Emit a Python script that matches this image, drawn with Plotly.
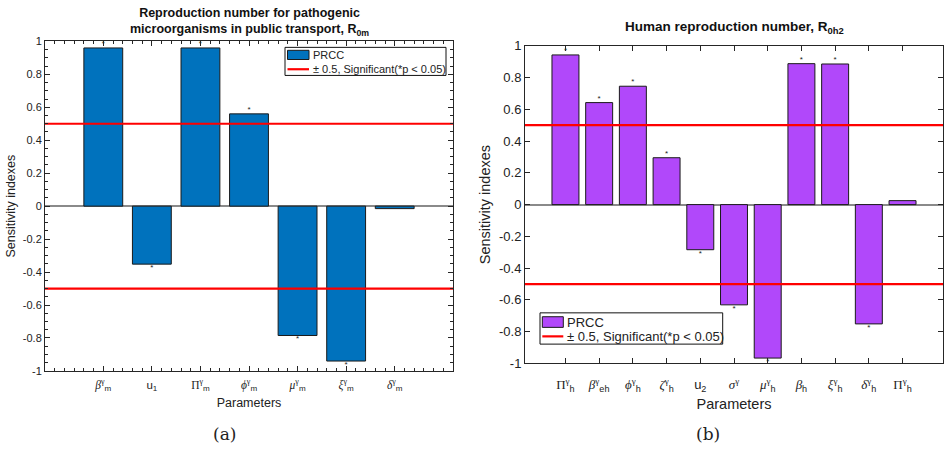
import plotly.graph_objects as go

W, H = 948, 467

# ---- data -------------------------------------------------------------
SERIF = "Liberation Serif"


def greek(sym, sup="", sub="", italic=True):
    g = f"<i>{sym}</i>" if italic else sym
    s = f'<span style="font-family:{SERIF}">{g}'
    if sup:
        s += f"<sup>{sup}</sup>"
    s += "</span>"
    if sub:
        s += f"<sub>{sub}</sub>"
    return s


m_labels = [
    greek("β", "γ", "m"),
    "u<sub>1</sub>",
    greek("Π", "γ", "m", italic=False),
    greek("ϕ", "γ", "m"),
    greek("μ", "γ", "m"),
    greek("ξ", "γ", "m"),
    greek("δ", "γ", "m"),
]
m_prcc = [0.96, -0.352, 0.96, 0.56, -0.785, -0.94, -0.015]
m_signif = [True, True, True, True, True, True, False]

h_labels = [
    greek("Π", "γ", "h", italic=False),
    greek("β", "γ", "eh"),
    greek("ϕ", "γ", "h"),
    greek("ζ", "γ", "h"),
    "u<sub>2</sub>",
    greek("σ", "γ"),
    greek("μ", "γ", "h"),
    greek("β", "", "h"),
    greek("ξ", "γ", "h"),
    greek("δ", "γ", "h"),
    greek("Π", "γ", "h", italic=False),
]
h_prcc = [0.942, 0.642, 0.745, 0.295, -0.284, -0.631, -0.966, 0.887, 0.885, -0.751, 0.025]
h_signif = [True, True, True, True, True, True, True, True, True, True, False]

threshold = 0.5
y_ticks = [-1, -0.8, -0.6, -0.4, -0.2, 0, 0.2, 0.4, 0.6, 0.8, 1]
y_ticklabels = ["-1", "-0.8", "-0.6", "-0.4", "-0.2", "0", "0.2", "0.4", "0.6", "0.8", "1"]

bar_name = "PRCC"
line_name = "± 0.5, Significant(*p < 0.05)"

# ---- styling ------------------------------------------------------------
SANS = "Liberation Sans, Arial, sans-serif"
AX = "#262626"
TXT = "#222222"
BLUE = "#0072BD"
PURPLE = "#B148FA"
RED = "#FF0000"


def px_x(p):
    return p / W


def px_y(p):
    return 1 - p / H


fig = go.Figure()


def add_panel(values, signif, color, xa, ya):
    n = len(values)
    xs = list(range(1, n + 1))
    fig.add_trace(go.Bar(
        x=xs, y=values, width=0.8, name=bar_name,
        marker=dict(color=color, line=dict(color="#1a1a1a", width=1)),
        xaxis=xa, yaxis=ya, showlegend=False,
    ))
    lo, hi = -0.2, n + 1.2
    fig.add_trace(go.Scatter(
        x=[lo, hi, None, lo, hi],
        y=[threshold, threshold, None, -threshold, -threshold],
        mode="lines", line=dict(color=RED, width=2.2),
        name=line_name, xaxis=xa, yaxis=ya, showlegend=False,
    ))
    # significance markers at the bar ends
    px_, py_, pos = [], [], []
    for x, v, s in zip(xs, values, signif):
        if s:
            px_.append(x)
            py_.append(v)
            pos.append("top center" if v >= 0 else "bottom center")
    fig.add_trace(go.Scatter(
        x=px_, y=py_, mode="text", text=["*"] * len(px_), textposition=pos,
        textfont=dict(size=8, color=TXT, family=SANS), cliponaxis=False,
        xaxis=xa, yaxis=ya, showlegend=False, hoverinfo="skip",
    ))
    return lo, hi


lo1, hi1 = add_panel(m_prcc, m_signif, BLUE, "x", "y")
lo2, hi2 = add_panel(h_prcc, h_signif, PURPLE, "x2", "y2")


def axis_x(fs_tick, fs_title, standoff, label_gap):
    return dict(
        showline=True, linecolor=AX, linewidth=1, mirror="ticks",
        ticks="inside", ticklen=5, tickcolor=AX, showgrid=False, zeroline=False,
        ticklabelstandoff=label_gap,
        tickfont=dict(family=SANS, size=fs_tick, color=TXT),
        title=dict(text="Parameters", font=dict(family=SANS, size=fs_title, color=TXT), standoff=standoff),
    )


def axis_y(fs_tick, fs_title, standoff):
    return dict(
        showline=True, linecolor=AX, linewidth=1, mirror="ticks",
        ticks="inside", ticklen=5, tickcolor=AX, showgrid=False,
        zeroline=True, zerolinecolor="#8a8a8a", zerolinewidth=1.5,
        range=[-1, 1], tickmode="array", tickvals=y_ticks, ticktext=y_ticklabels,
        tickfont=dict(family=SANS, size=fs_tick, color=TXT),
        title=dict(text="Sensitivity indexes", font=dict(family=SANS, size=fs_title, color=TXT), standoff=standoff),
    )


fig.update_layout(
    width=W, height=H, margin=dict(l=0, r=0, t=0, b=0),
    paper_bgcolor="white", plot_bgcolor="white",
    showlegend=False,
    xaxis=dict(axis_x(11.5, 12.5, 6, 3), domain=[px_x(45), px_x(453)], range=[lo1, hi1],
               tickmode="array", tickvals=list(range(1, len(m_labels) + 1)), ticktext=m_labels,
               minor=dict(ticks="inside", ticklen=3, tickcolor=AX, tickmode="linear", tick0=0, dtick=0.2)),
    yaxis=dict(axis_y(11, 12.5, 4), domain=[px_y(376), px_y(35.5)], anchor="x",
               minor=dict(ticks="inside", ticklen=3, tickcolor=AX, tickmode="linear", tick0=0, dtick=0.05)),
    xaxis2=dict(axis_x(13, 14.5, 6, 9), domain=[px_x(525), px_x(943)], range=[lo2, hi2], anchor="y2",
                tickmode="array", tickvals=list(range(1, len(h_labels) + 1)), ticktext=h_labels),
    yaxis2=dict(axis_y(13, 14.5, 4), domain=[px_y(368.3), px_y(40)], anchor="x2"),
)

# ---- legends (box, bar swatch, line sample, labels) ----------------------
shapes = []
annotations = []


def legend_box(x0, x1, y0, y1, sw0, sw1, row1, row2, swh, color, fs):
    shapes.append(dict(type="rect", xref="paper", yref="paper",
                       x0=px_x(x0), x1=px_x(x1), y0=px_y(y0), y1=px_y(y1),
                       line=dict(color="#111111", width=1), fillcolor="white", layer="above"))
    shapes.append(dict(type="rect", xref="paper", yref="paper",
                       x0=px_x(sw0), x1=px_x(sw1), y0=px_y(row1 - swh / 2), y1=px_y(row1 + swh / 2),
                       line=dict(color="#1a1a1a", width=1), fillcolor=color, layer="above"))
    shapes.append(dict(type="line", xref="paper", yref="paper",
                       x0=px_x(sw0), x1=px_x(sw1), y0=px_y(row2), y1=px_y(row2),
                       line=dict(color=RED, width=2.2), layer="above"))
    for row, txt in ((row1, bar_name), (row2, line_name)):
        annotations.append(dict(text=txt, x=px_x(sw1 + 1.5), y=px_y(row), xref="paper", yref="paper",
                                xanchor="left", yanchor="middle", showarrow=False,
                                font=dict(family=SANS, size=fs, color=TXT)))


legend_box(285, 446, 41.7, 70.7, 287.5, 309, 49.5, 64.3, 9.5, BLUE, 11)
legend_box(540, 722.7, 316, 348.3, 542.3, 563.3, 325.5, 340.3, 11, PURPLE, 13)

annotations += [
    dict(text="<b>Reproduction number for pathogenic<br>microorganisms in public transport, R<sub>0m</sub></b>",
         x=px_x(249), y=px_y(34), xref="paper", yref="paper", xanchor="center", yanchor="bottom",
         showarrow=False, font=dict(family=SANS, size=12.5, color="#111111")),
    dict(text="<b>Human reproduction number, R<sub>0h2</sub></b>",
         x=px_x(734), y=px_y(32), xref="paper", yref="paper", xanchor="center", yanchor="bottom",
         showarrow=False, font=dict(family=SANS, size=13.5, color="#111111")),
    dict(text="(a)", x=px_x(224), y=px_y(441), xref="paper", yref="paper",
         xanchor="center", yanchor="middle", showarrow=False,
         font=dict(family="DejaVu Serif, serif", size=17, color=TXT)),
    dict(text="(b)", x=px_x(708), y=px_y(441), xref="paper", yref="paper",
         xanchor="center", yanchor="middle", showarrow=False,
         font=dict(family="DejaVu Serif, serif", size=17, color=TXT)),
]
fig.update_layout(shapes=shapes, annotations=annotations)

fig.write_html("out.html")
